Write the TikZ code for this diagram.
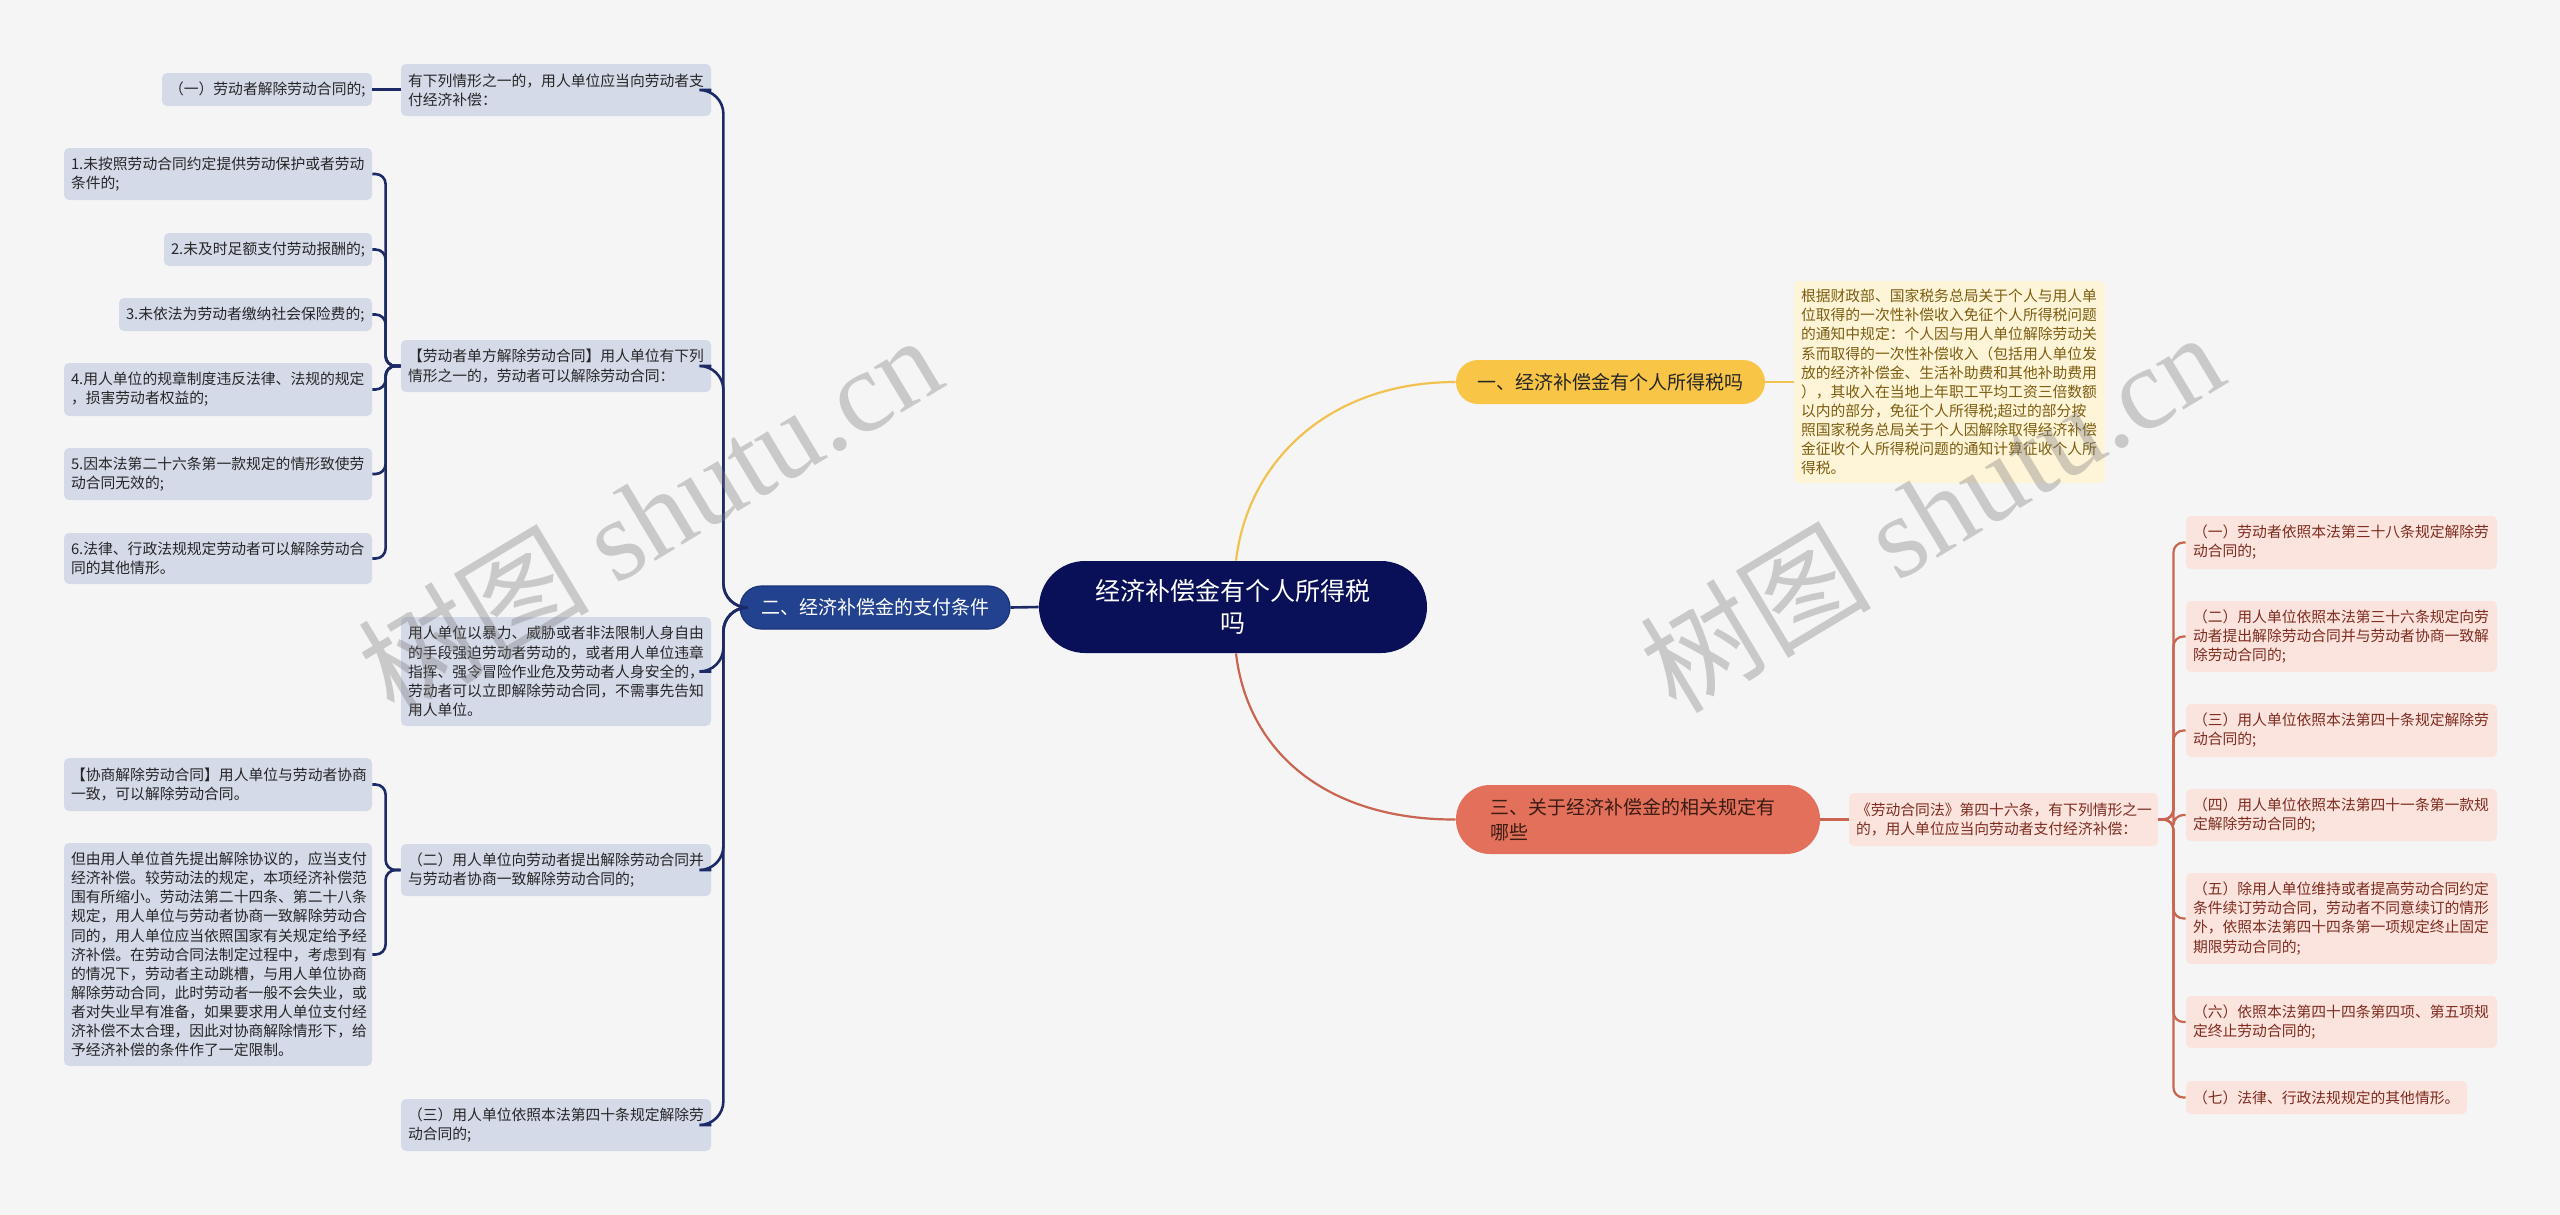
\documentclass[tikz,border=0pt]{standalone}
\usepackage{fontspec}
\newfontfamily\cjk{Noto Sans CJK SC}
\newfontfamily\wmserif{Liberation Serif}
\usetikzlibrary{calc}
\definecolor{bg}{HTML}{F5F5F5}
\definecolor{lfill}{HTML}{D5DAE9}
\definecolor{ltext}{HTML}{262626}
\definecolor{navyl}{HTML}{1C2B68}
\definecolor{cfill}{HTML}{0A1058}
\definecolor{btwofill}{HTML}{22418E}
\definecolor{btwodraw}{HTML}{1A3377}
\definecolor{yfill}{HTML}{F8C547}
\definecolor{yline}{HTML}{F2C250}
\definecolor{dfill}{HTML}{FEF4D8}
\definecolor{dtext}{HTML}{7D5E10}
\definecolor{rfill}{HTML}{E3705B}
\definecolor{rtexttop}{HTML}{3A1C14}
\definecolor{rline}{HTML}{C96550}
\definecolor{ifill}{HTML}{FBE4DE}
\definecolor{itext}{HTML}{7E2C1E}
\definecolor{wmgray}{HTML}{787878}
\tikzset{
  smallfont/.style={font=\cjk\fontsize{7.4}{9.55}\selectfont},
  lbox/.style={rectangle, rounded corners=2.5pt, fill=lfill, text=ltext, align=left,
    inner xsep=3.5pt, inner ysep=0pt, smallfont},
  dbox/.style={lbox, fill=dfill, text=dtext},
  ibox/.style={lbox, fill=ifill, text=itext},
  navyconn/.style={draw=navyl, line width=1.3pt},
  yconn/.style={draw=yline, line width=1.1pt},
  rconn/.style={draw=rline, line width=1.1pt},
  wm/.style={rotate=31, text=wmgray, text opacity=0.35, inner sep=0pt}
}
\begin{document}
\begin{tikzpicture}[x=0.5pt, y=-0.5pt]
\useasboundingbox (0,0) rectangle (2560,1215);
\fill[bg] (0,0) rectangle (2560,1215);

% center
\node[rectangle, rounded corners=23pt, fill=cfill, text=white, align=center,
  minimum width=194pt, minimum height=46pt, inner sep=0pt,
  font=\cjk\fontsize{12.5}{16}\selectfont] (cen) at (1233,607) {经济补偿金有个人所得税\\吗};

% branch two
\node[rectangle, rounded corners=10.75pt, fill=btwofill, draw=btwodraw, line width=0.6pt, text=white,
  minimum width=135pt, minimum height=21.5pt, inner sep=0pt,
  font=\cjk\fontsize{9.5}{12}\selectfont] (btwo) at (875,607.5) {二、经济补偿金的支付条件};

% middle column
\node[lbox, text width=148pt, minimum height=26pt] (p1) at (556,90) {有下列情形之一的，用人单位应当向劳动者支\\付经济补偿：};
\node[lbox, text width=148pt, minimum height=26pt] (p2) at (556,366) {【劳动者单方解除劳动合同】用人单位有下列\\情形之一的，劳动者可以解除劳动合同：};
\node[lbox, text width=148pt, minimum height=54.5pt] (p3) at (556,671.5) {用人单位以暴力、威胁或者非法限制人身自由\\的手段强迫劳动者劳动的，或者用人单位违章\\指挥、强令冒险作业危及劳动者人身安全的，\\劳动者可以立即解除劳动合同，不需事先告知\\用人单位。};
\node[lbox, text width=148pt, minimum height=26pt] (p4) at (556,870) {（二）用人单位向劳动者提出解除劳动合同并\\与劳动者协商一致解除劳动合同的;};
\node[lbox, text width=148pt, minimum height=26pt] (p5) at (556,1125) {（三）用人单位依照本法第四十条规定解除劳\\动合同的;};

% left column
\node[lbox, text width=98pt, minimum height=16.5pt] (c0) at (267,89.5) {（一）劳动者解除劳动合同的;};
\node[lbox, text width=147pt, minimum height=26pt] (q1) at (218,174) {1.未按照劳动合同约定提供劳动保护或者劳动\\条件的;};
\node[lbox, text width=97pt, minimum height=16.5pt] (q2) at (268,249.5) {2.未及时足额支付劳动报酬的;};
\node[lbox, text width=119.5pt, minimum height=16.5pt] (q3) at (245.5,314.5) {3.未依法为劳动者缴纳社会保险费的;};
\node[lbox, text width=147pt, minimum height=26.5pt] (q4) at (218,389.5) {4.用人单位的规章制度违反法律、法规的规定\\，损害劳动者权益的;};
\node[lbox, text width=147pt, minimum height=26pt] (q5) at (218,474) {5.因本法第二十六条第一款规定的情形致使劳\\动合同无效的;};
\node[lbox, text width=147pt, minimum height=25.5pt] (q6) at (218,558.5) {6.法律、行政法规规定劳动者可以解除劳动合\\同的其他情形。};
\node[lbox, text width=147pt, minimum height=26.5pt] (cx) at (218,784.5) {【协商解除劳动合同】用人单位与劳动者协商\\一致，可以解除劳动合同。};
\node[lbox, text width=147pt, minimum height=111.5pt] (cd) at (218,954.5) {但由用人单位首先提出解除协议的，应当支付\\经济补偿。较劳动法的规定，本项经济补偿范\\围有所缩小。劳动法第二十四条、第二十八条\\规定，用人单位与劳动者协商一致解除劳动合\\同的，用人单位应当依照国家有关规定给予经\\济补偿。在劳动合同法制定过程中，考虑到有\\的情况下，劳动者主动跳槽，与用人单位协商\\解除劳动合同，此时劳动者一般不会失业，或\\者对失业早有准备，如果要求用人单位支付经\\济补偿不太合理，因此对协商解除情形下，给\\予经济补偿的条件作了一定限制。};

% branch one
\node[rectangle, rounded corners=11pt, fill=yfill, text=ltext,
  minimum width=154.5pt, minimum height=22pt, inner sep=0pt,
  font=\cjk\fontsize{9.5}{12}\selectfont] (bone) at (1610.5,382) {一、经济补偿金有个人所得税吗};
\node[dbox, text width=148.5pt, minimum height=101pt] (det) at (1949.5,382) {根据财政部、国家税务总局关于个人与用人单\\位取得的一次性补偿收入免征个人所得税问题\\的通知中规定：个人因与用人单位解除劳动关\\系而取得的一次性补偿收入（包括用人单位发\\放的经济补偿金、生活补助费和其他补助费用\\），其收入在当地上年职工平均工资三倍数额\\以内的部分，免征个人所得税;超过的部分按\\照国家税务总局关于个人因解除取得经济补偿\\金征收个人所得税问题的通知计算征收个人所\\得税。};

% branch three
\node[rectangle, rounded corners=17pt, fill=rfill, text=rtexttop, align=left,
  text width=148pt, inner xsep=17pt, inner ysep=0pt, minimum height=34.5pt,
  font=\cjk\fontsize{9.5}{12.3}\selectfont] (bthree) at (1638,819.5) {三、关于经济补偿金的相关规定有\\哪些};
\node[ibox, text width=147.5pt, minimum height=26.5pt] (law) at (2003.5,819.5) {《劳动合同法》第四十六条，有下列情形之一\\的，用人单位应当向劳动者支付经济补偿：};
\node[ibox, text width=148.5pt, minimum height=26.5pt] (i1) at (2341.5,542.5) {（一）劳动者依照本法第三十八条规定解除劳\\动合同的;};
\node[ibox, text width=148.5pt, minimum height=35.5pt] (i2) at (2341.5,636.5) {（二）用人单位依照本法第三十六条规定向劳\\动者提出解除劳动合同并与劳动者协商一致解\\除劳动合同的;};
\node[ibox, text width=148.5pt, minimum height=26.5pt] (i3) at (2341.5,730.5) {（三）用人单位依照本法第四十条规定解除劳\\动合同的;};
\node[ibox, text width=148.5pt, minimum height=26pt] (i4) at (2341.5,815) {（四）用人单位依照本法第四十一条第一款规\\定解除劳动合同的;};
\node[ibox, text width=148.5pt, minimum height=45.5pt] (i5) at (2341.5,918.5) {（五）除用人单位维持或者提高劳动合同约定\\条件续订劳动合同，劳动者不同意续订的情形\\外，依照本法第四十四条第一项规定终止固定\\期限劳动合同的;};
\node[ibox, text width=148.5pt, minimum height=26pt] (i6) at (2341.5,1022) {（六）依照本法第四十四条第四项、第五项规\\定终止劳动合同的;};
\node[ibox, text width=133.5pt, minimum height=16.5pt] (i7) at (2326.5,1097.5) {（七）法律、行政法规规定的其他情形。};

% connectors
\draw[navyconn] (cen.west) -- (btwo.east);
\foreach \n in {p1,p2,p3,p4,p5}
  \draw[navyconn, rounded corners=12pt] (btwo.west) -- ++(-16,0) |- (\n.east);
\draw[navyconn] (c0.east) -- (c0.east -| p1.west);
\foreach \n in {q1,q2,q3,q4,q5,q6}
  \draw[navyconn, rounded corners=5pt] (p2.west) -- ++(-15,0) |- (\n.east);
\foreach \n in {cx,cd}
  \draw[navyconn, rounded corners=5pt] (p4.west) -- ++(-15,0) |- (\n.east);

\draw[yconn] ($(cen.north)+(3,0)$) .. controls (1248,460) and (1330,382) .. (bone.west);
\draw[yconn] (bone.east) -- (det.west);
\draw[rconn] ($(cen.south)+(3,0)$) .. controls (1248,755) and (1330,820) .. (bthree.west);
\draw[rconn] (bthree.east) -- (law.west);
\foreach \n in {i1,i2,i3,i4,i5,i6,i7}
  \draw[rconn, rounded corners=5pt] (law.east) -- ++(15,0) |- (\n.west);

% watermarks
\node[wm] (wmone) at (649,514) {\fontsize{58}{60}\selectfont\cjk 树图\ \wmserif shutu.cn};
\node[wm] (wmtwo) at (1931,511) {\fontsize{58}{60}\selectfont\cjk 树图\ \wmserif shutu.cn};
\end{tikzpicture}
\end{document}
